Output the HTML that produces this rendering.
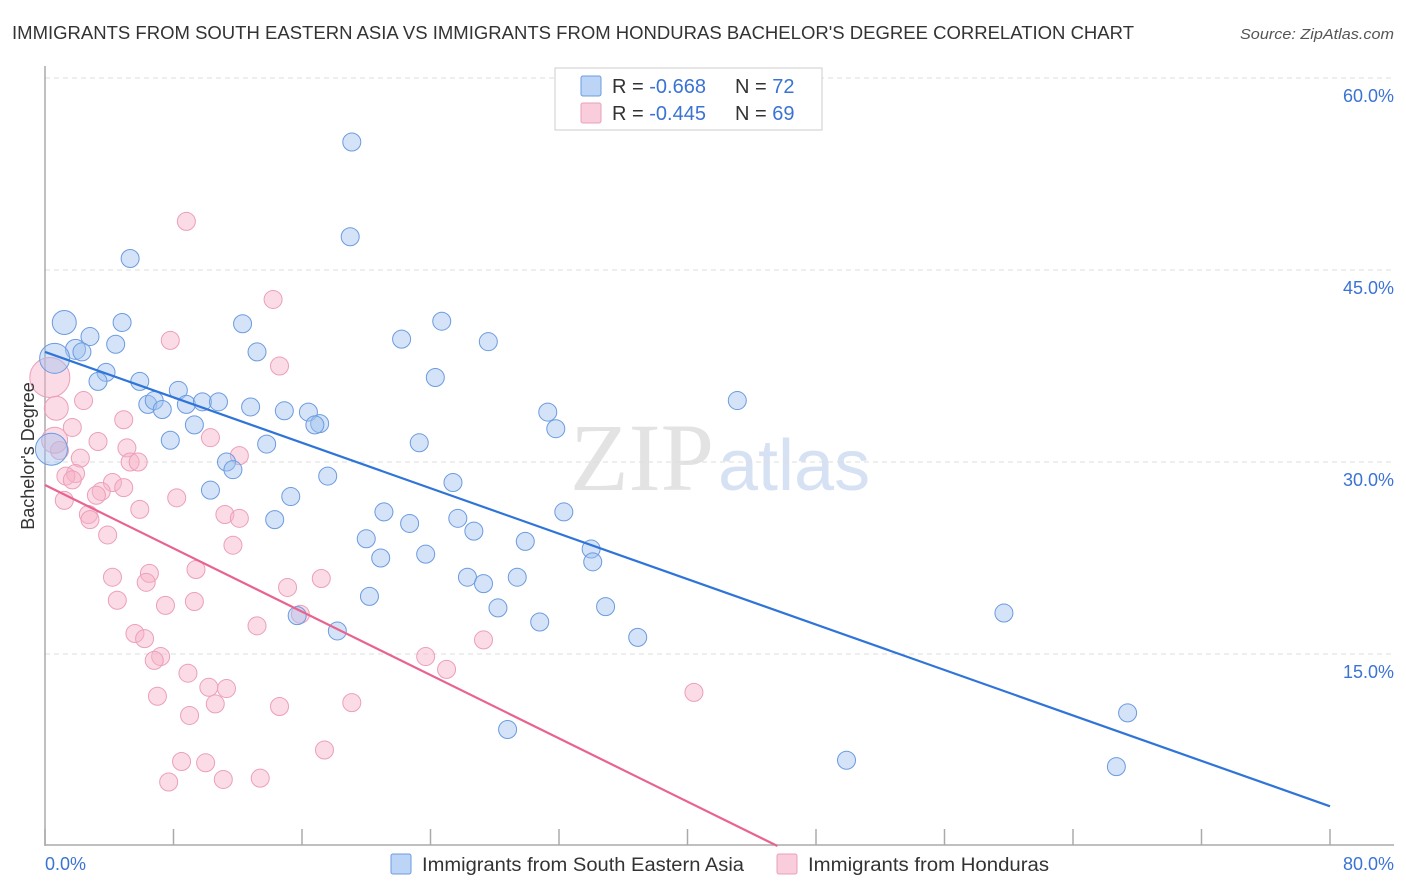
<!DOCTYPE html>
<html><head><meta charset="utf-8">
<style>
body{margin:0;background:#fff;font-family:"Liberation Sans",sans-serif;}
svg{display:block}
</style></head>
<body>
<svg id="chart" width="1406" height="892" xmlns="http://www.w3.org/2000/svg">
<text x="12" y="39" font-size="18" fill="#333" textLength="1122" lengthAdjust="spacingAndGlyphs">IMMIGRANTS FROM SOUTH EASTERN ASIA VS IMMIGRANTS FROM HONDURAS BACHELOR'S DEGREE CORRELATION CHART</text>
<text x="1394" y="39" font-size="15" fill="#555" font-style="italic" text-anchor="end" textLength="154" lengthAdjust="spacingAndGlyphs">Source: ZipAtlas.com</text>
<text x="714" y="490" font-size="96" fill="#e3e3e3" font-family="Liberation Serif,serif" text-anchor="end">ZIP</text>
<text x="718" y="490" font-size="72" fill="#d6e2f3" text-anchor="start">atlas</text>
<g id="grid"></g>
<g id="axes"></g>
<g id="pts"></g>
<g id="lines"></g>
<text x="34" y="456" font-size="18" fill="#333" text-anchor="middle" transform="rotate(-90 34 456)">Bachelor's Degree</text>
<g>
<rect x="555" y="68" width="267" height="62" fill="#fff" stroke="#ccc"/>
<rect x="581" y="76" width="20" height="20" fill="#bcd4f5" stroke="#6a9be0" rx="2"/>
<text x="612" y="93" font-size="20" fill="#333">R = <tspan fill="#3b73d4">-0.668</tspan></text>
<text x="735" y="93" font-size="20" fill="#333">N = <tspan fill="#3b73d4">72</tspan></text>
<rect x="581" y="103" width="20" height="20" fill="#f9cddb" stroke="#e8a0b8" rx="2"/>
<text x="612" y="120" font-size="20" fill="#333">R = <tspan fill="#3b73d4">-0.445</tspan></text>
<text x="735" y="120" font-size="20" fill="#333">N = <tspan fill="#3b73d4">69</tspan></text>
</g>
<text x="45" y="870" font-size="18" fill="#3b73d4">0.0%</text>
<text x="1394" y="870" font-size="18" fill="#3b73d4" text-anchor="end">80.0%</text>
<g><rect x="391" y="854" width="20" height="20" fill="#bcd4f5" stroke="#6a9be0" rx="2"/><text x="422" y="871" font-size="19" fill="#333" textLength="322" lengthAdjust="spacingAndGlyphs">Immigrants from South Eastern Asia</text></g>
<g><rect x="777" y="854" width="20" height="20" fill="#f9cddb" stroke="#e8a0b8" rx="2"/><text x="808" y="871" font-size="19" fill="#333" textLength="241" lengthAdjust="spacingAndGlyphs">Immigrants from Honduras</text></g>
</svg>
<script>
const yTicks=[15,30,45,60];
const xTicks=[0,8,16,24,32,40,48,56,64,72,80];
const blueX=[19.1,19.0,5.3,1.2,2.8,4.8,12.3,24.7,4.4,1.9,2.3,0.6,13.2,22.2,27.6,3.8,3.3,5.9,8.3,24.3,6.4,6.8,7.3,8.8,9.8,10.8,12.8,14.9,16.4,17.1,16.8,31.3,31.8,43.1,9.3,7.8,13.8,23.3,11.3,11.7,17.6,25.4,10.3,15.3,21.1,32.3,14.3,25.7,22.7,26.7,20.0,29.9,20.9,23.7,34.0,34.1,26.3,27.3,29.4,20.2,28.2,34.9,30.8,15.7,18.2,36.9,59.7,67.4,28.8,49.9,66.7,0.4];
const blueY=[55.0,47.6,45.9,40.9,39.8,40.9,40.8,41.0,39.2,38.8,38.6,38.1,38.6,39.6,39.4,37.0,36.3,36.3,35.6,36.6,34.5,34.8,34.1,34.5,34.7,34.7,34.3,34.0,33.9,33.0,32.9,33.9,32.6,34.8,32.9,31.7,31.4,31.5,30.0,29.4,28.9,28.4,27.8,27.3,26.1,26.1,25.5,25.6,25.2,24.6,24.0,23.8,22.5,22.8,23.2,22.2,21.0,20.5,21.0,19.5,18.6,18.7,17.5,18.0,16.8,16.3,18.2,10.4,9.1,6.7,6.2,31.0];
const blueR=[9,9,9,12,9,9,9,9,9,10,9,15,9,9,9,9,9,9,9,9,9,9,9,9,9,9,9,9,9,9,9,9,9,9,9,9,9,9,9,9,9,9,9,9,9,9,9,9,9,9,9,9,9,9,9,9,9,9,9,9,9,9,9,9,9,9,9,9,9,9,9,16];
const pinkX=[8.8,14.2,7.8,14.6,0.3,0.7,2.4,4.9,1.7,3.3,10.3,5.1,12.1,0.9,2.2,5.3,5.8,1.9,1.3,1.7,4.2,4.9,3.5,3.2,8.2,1.2,5.9,2.7,2.8,11.2,12.1,3.9,11.7,6.5,9.4,4.2,6.3,17.2,15.1,4.5,9.3,7.5,15.9,13.2,5.6,6.2,27.3,7.2,6.8,23.7,25.0,8.9,10.2,11.3,7.0,40.4,10.6,14.6,19.1,9.0,17.4,8.5,10.0,7.7,11.1,13.4,0.6];
const pinkY=[48.8,42.7,39.5,37.5,36.6,34.2,34.8,33.3,32.7,31.6,31.9,31.1,30.5,30.9,30.3,30.0,30.0,29.1,28.9,28.6,28.4,28.0,27.7,27.4,27.2,27.0,26.3,25.9,25.5,25.9,25.6,24.3,23.5,21.3,21.6,21.0,20.6,20.9,20.2,19.2,19.1,18.8,18.1,17.2,16.6,16.2,16.1,14.8,14.5,14.8,13.8,13.5,12.4,12.3,11.7,12.0,11.1,10.9,11.2,10.2,7.5,6.6,6.5,5.0,5.2,5.3,31.7];
const pinkR=[9,9,9,9,20,12,9,9,9,9,9,9,9,9,9,9,9,9,9,9,9,9,9,9,9,9,9,9,9,9,9,9,9,9,9,9,9,9,9,9,9,9,9,9,9,9,9,9,9,9,9,9,9,9,9,9,9,9,9,9,9,9,9,9,9,9,13];
const blueLine=[[0,38.6],[80,3.1]];
const pinkLine=[[0,28.2],[45.6,0]];
const NS="http://www.w3.org/2000/svg";
const sx=v=>45+v*1285/80, sy=v=>846-v*12.8;
function mk(t,a,p){const e=document.createElementNS(NS,t);for(const k in a)e.setAttribute(k,a[k]);p.appendChild(e);return e;}
const grid=document.getElementById('grid'),axes=document.getElementById('axes'),pts=document.getElementById('pts'),lines=document.getElementById('lines');
yTicks.forEach(t=>{
 const l=mk('line',{x1:45,x2:1394,y1:sy(t),y2:sy(t),stroke:'#ddd','stroke-dasharray':'5,4'},grid);
 
 
 const tx=mk('text',{x:1394,y:sy(t)+24,'font-size':18,fill:'#3b73d4','text-anchor':'end'},grid);
 tx.textContent=t.toFixed(1)+'%';
 
 
});
const ya=mk('line',{x1:45,x2:45,y1:66,y2:846,stroke:'#aaa','stroke-width':1.5},axes);


const xa=mk('line',{x1:45,x2:1394,y1:845,y2:845,stroke:'#aaa','stroke-width':1.5},axes);


xTicks.forEach(t=>{
 const l=mk('line',{x1:sx(t),x2:sx(t),y1:829,y2:845,stroke:'#aaa','stroke-width':1.5},axes);
 
 
});
function drawPts(X,Y,R,fill,stroke,name){
 X.forEach((x,i)=>{
  const c=mk('circle',{cx:sx(x),cy:sy(Y[i]),r:R[i],fill:fill,stroke:stroke,'stroke-width':1},pts);
  
  
 });
}
drawPts(pinkX,pinkY,pinkR,'rgba(247,178,200,0.45)','#ec9fb9','pink-point');
drawPts(blueX,blueY,blueR,'rgba(160,193,240,0.45)','#6b9be0','blue-point');
const bl=mk('line',{x1:sx(blueLine[0][0]),y1:sy(blueLine[0][1]),x2:sx(blueLine[1][0]),y2:sy(blueLine[1][1]),stroke:'#2f74d8','stroke-width':2.2},lines);


const pl=mk('line',{x1:sx(pinkLine[0][0]),y1:sy(pinkLine[0][1]),x2:sx(pinkLine[1][0]),y2:sy(pinkLine[1][1]),stroke:'#e8648e','stroke-width':2.2},lines);


</script>
</body></html>
